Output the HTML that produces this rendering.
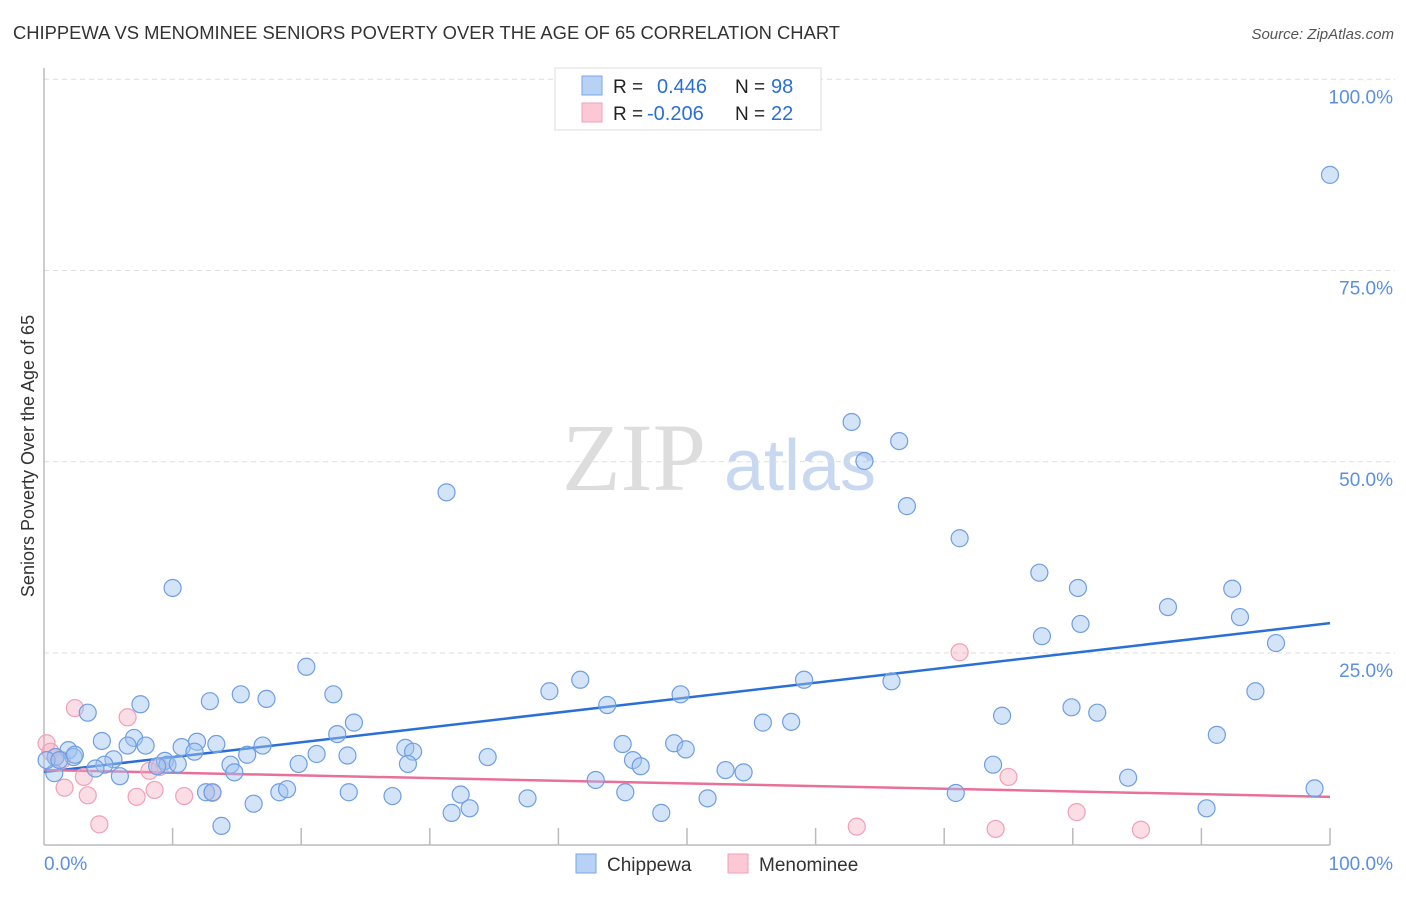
<!DOCTYPE html>
<html><head><meta charset="utf-8"><style>
body{margin:0;background:#fff;font-family:"Liberation Sans",sans-serif}
</style></head><body>
<svg width="1406" height="892" xmlns="http://www.w3.org/2000/svg" id="svg">
<text x="13" y="39" font-size="18" fill="#333" textLength="827" lengthAdjust="spacingAndGlyphs">CHIPPEWA VS MENOMINEE SENIORS POVERTY OVER THE AGE OF 65 CORRELATION CHART</text>
<text x="1394" y="39" font-size="15" fill="#555" font-style="italic" text-anchor="end">Source: ZipAtlas.com</text>
<g>
<text x="634" y="490" font-size="96" font-family="Liberation Serif,serif" fill="#ddd" text-anchor="middle">ZIP</text>
<text x="800" y="490" font-size="72" fill="#c8d8f0" text-anchor="middle">atlas</text>
</g>
<g id="grid"></g>
<g id="axes"></g>
<line id="blueLine" stroke="#2a6fd6" stroke-width="2.5"/>
<line id="pinkLine" stroke="#e8709a" stroke-width="2.5"/>
<g id="pts"></g>
<text x="0" y="0" font-size="18" fill="#333" text-anchor="middle" transform="translate(34,456) rotate(-90)">Seniors Poverty Over the Age of 65</text>
<g>
<rect x="555" y="68" width="266" height="62" fill="#fff" stroke="#ddd"/>
<rect x="582" y="76" width="20" height="19" fill="#b8d2f5" stroke="#7aa6e6"/>
<rect x="582" y="103" width="20" height="19" fill="#fcc8d6" stroke="#f0a0b8"/>
<text x="613" y="93" font-size="19" fill="#222">R =</text>
<text x="657" y="93" font-size="20" fill="#2a6fd6">0.446</text>
<text x="735" y="93" font-size="19" fill="#222">N =</text>
<text x="771" y="93" font-size="20" fill="#2a6fd6">98</text>
<text x="613" y="120" font-size="19" fill="#222">R =</text>
<text x="647" y="120" font-size="20" fill="#2a6fd6">-0.206</text>
<text x="735" y="120" font-size="19" fill="#222">N =</text>
<text x="771" y="120" font-size="20" fill="#2a6fd6">22</text>
</g>
<g>
<rect x="576" y="854" width="20" height="19" fill="#b8d2f5" stroke="#7aa6e6"/>
<text x="607" y="871" font-size="19" fill="#333">Chippewa</text>
<rect x="728" y="854" width="20" height="19" fill="#fcc8d6" stroke="#f0a0b8"/>
<text x="759" y="871" font-size="19" fill="#333">Menominee</text>
</g>
</svg>
<script>
const blueX=[100,62.8,66.5,63.8,67.1,31.3,71.2,77.4,80.4,92.4,87.4,93.0,77.6,80.6,95.8,10.0,20.4,41.7,39.3,49.5,59.1,65.9,94.2,22.5,15.3,17.3,12.9,7.5,3.4,43.8,79.9,81.9,74.5,55.9,58.1,24.1,22.8,91.2,4.5,7.0,6.5,7.9,10.7,11.9,13.4,17.0,28.1,28.7,45.0,49.0,49.9,1.9,2.3,5.4,11.7,15.8,21.2,23.6,34.5,0.9,4.7,9.4,9.6,8.8,10.4,14.5,14.8,19.8,28.3,45.8,46.4,53.0,54.4,73.8,4.0,5.9,0.8,84.3,42.9,12.6,13.1,18.3,18.9,23.7,27.1,32.4,45.2,70.9,37.6,51.6,16.3,33.1,31.7,48.0,90.4,98.8,13.8,0.2,1.2,2.4];
const blueY=[87.5,55.2,52.7,50.1,44.2,46.0,40.0,35.5,33.5,33.4,31.0,29.7,27.2,28.8,26.3,33.5,23.2,21.5,20.0,19.6,21.5,21.3,20.0,19.6,19.6,19.0,18.7,18.3,17.2,18.2,17.9,17.2,16.8,15.9,16.0,15.9,14.4,14.3,13.5,13.9,12.9,12.9,12.7,13.4,13.1,12.9,12.6,12.1,13.1,13.2,12.4,12.3,11.4,11.1,12.1,11.7,11.8,11.6,11.4,11.4,10.4,10.9,10.4,10.2,10.5,10.4,9.4,10.5,10.5,11.0,10.2,9.7,9.4,10.4,9.9,8.9,9.3,8.7,8.4,6.8,6.8,6.8,7.2,6.8,6.3,6.5,6.8,6.7,6.0,6.0,5.3,4.7,4.1,4.1,4.7,7.3,2.4,11.0,11.0,11.7];
const pinkX=[0.2,0.5,1.4,2.4,6.5,1.6,3.4,3.1,8.2,8.6,7.2,10.9,13.1,4.3,71.2,75.0,80.3,63.2,74.0,85.3,0.9,9.0];
const pinkY=[13.2,12.1,11.0,17.8,16.6,7.4,6.4,8.8,9.6,7.1,6.2,6.3,6.7,2.6,25.1,8.8,4.2,2.3,2.0,1.9,11.4,10.1];
const blueTrend=[9.44,28.9];
const pinkTrend=[9.7,6.2];
const yTicks=[25,50,75,100];
const xTicks=[10,20,30,40,50,60,70,80,90,100];

const NS="http://www.w3.org/2000/svg";
const X=v=>44+v*12.86;
const Y=v=>844.25-v*7.65;
function mk(tag,attrs,parent){const e=document.createElementNS(NS,tag);for(const k in attrs)e.setAttribute(k,attrs[k]);parent.appendChild(e);return e;}
const grid=document.getElementById('grid'),axes=document.getElementById('axes'),pts=document.getElementById('pts');
yTicks.forEach(t=>{
 const l=mk('line',{x1:44,x2:1395,y1:Y(t),y2:Y(t),stroke:'#ddd','stroke-dasharray':'5,4'},grid);
 
 
 const tx=mk('text',{x:1393,y:Y(t)+24,'font-size':19,fill:'#5b8fe0','text-anchor':'end'},axes);
 tx.textContent=t.toFixed(1)+'%';
 
 
});
let a=mk('line',{x1:44,x2:44,y1:68,y2:845,stroke:'#bbb','stroke-width':1.5},axes);


a=mk('line',{x1:44,x2:1330,y1:845,y2:845,stroke:'#bbb','stroke-width':1.5},axes);


xTicks.forEach(t=>{
 const l=mk('line',{x1:X(t),x2:X(t),y1:828,y2:845,stroke:'#bbb','stroke-width':1.5},axes);
 
 
});
let t0=mk('text',{x:44,y:870,'font-size':19,fill:'#5b8fe0'},axes);t0.textContent='0.0%';


let t1=mk('text',{x:1393,y:870,'font-size':19,fill:'#5b8fe0','text-anchor':'end'},axes);t1.textContent='100.0%';


pinkX.forEach((v,i)=>{
 const c=mk('circle',{cx:X(v),cy:Y(pinkY[i]),r:8.5,fill:'rgba(244,170,192,0.4)',stroke:'#f0a0b8','stroke-width':1.2},pts);
 
 
});
blueX.forEach((v,i)=>{
 const c=mk('circle',{cx:X(v),cy:Y(blueY[i]),r:8.5,fill:'rgba(160,195,240,0.45)',stroke:'#6f9ee2','stroke-width':1.2},pts);
 
 
});
const bl=document.getElementById('blueLine');
bl.setAttribute('x1',X(0));bl.setAttribute('x2',X(100));bl.setAttribute('y1',Y(blueTrend[0]));bl.setAttribute('y2',Y(blueTrend[1]));
const pl=document.getElementById('pinkLine');
pl.setAttribute('x1',X(0));pl.setAttribute('x2',X(100));pl.setAttribute('y1',Y(pinkTrend[0]));pl.setAttribute('y2',Y(pinkTrend[1]));
</script>
</body></html>
